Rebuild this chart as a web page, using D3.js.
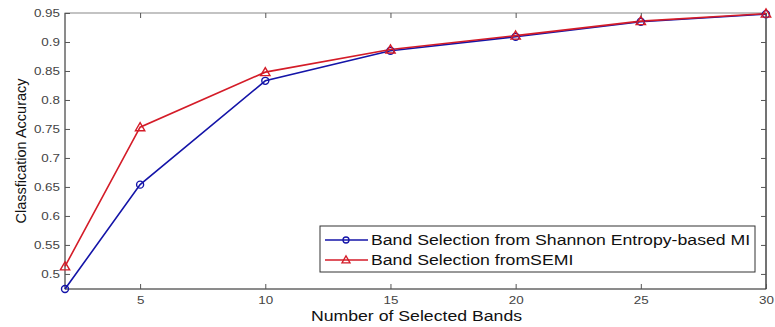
<!DOCTYPE html>
<html>
<head>
<meta charset="utf-8">
<script src="https://cdn.jsdelivr.net/npm/d3@7"></script>
<style>
	body { margin: 0; background: #fff; }
	text { font-family: "Liberation Sans", Arial, sans-serif; }
</style>
</head>
<body>
<svg id="chart" width="775" height="327"></svg>
<script>
// band counts on the x axis
const bands = [2, 5, 10, 15, 20, 25, 30];
// accuracies
const shannonMI = [0.474, 0.654, 0.833, 0.885, 0.909, 0.935, 0.948];
const semi = [0.513, 0.753, 0.848, 0.887, 0.911, 0.936, 0.949];
const xTicks = [5, 10, 15, 20, 25, 30];
const yTicks = [0.5, 0.55, 0.6, 0.65, 0.7, 0.75, 0.8, 0.85, 0.9, 0.95];
const seriesNames = ["Band Selection from Shannon Entropy-based MI", "Band Selection fromSEMI"];

const margin = { left: 65, right: 9, top: 13, bottom: 38 };
const W = 775, H = 327;
const stretch = 1.22; // the original picture is widened a bit
const svg = d3.select("#chart");

let x = d3.scaleLinear().domain([2, 30]).range([margin.left, W - margin.right]);
let y = d3.scaleLinear().domain([0.474, 0.95]).range([H - margin.bottom, margin.top]);

let g = svg.append("g");

// frame
g.append("rect")
	.attr("x", x(2)).attr("y", y(0.95))
	.attr("width", x(30) - x(2)).attr("height", y(0.474) - y(0.95))
	.attr("fill", "none").attr("stroke", "#888").attr("stroke-width", 1);
g.append("line").attr("x1", x(2)).attr("x2", x(30)).attr("y1", y(0.474)).attr("y2", y(0.474))
	.attr("stroke", "#555");
g.append("line").attr("x1", x(2)).attr("x2", x(2)).attr("y1", y(0.474)).attr("y2", y(0.95))
	.attr("stroke", "#555");
g.append("line").attr("x1", x(30)).attr("x2", x(30)).attr("y1", y(0.474)).attr("y2", y(0.95))
	.attr("stroke", "#222");

// ticks inside, on all four sides
let xAxis = d3.axisBottom(x).tickValues(xTicks).tickSize(-5).tickPadding(7).tickFormat(d3.format("d"));
let xg = g.append("g").attr("transform", `translate(0,${y(0.474)})`).call(xAxis);
let xTop = d3.axisTop(x).tickValues(xTicks).tickSize(-5).tickFormat("");
let xtg = g.append("g").attr("transform", `translate(0,${y(0.95)})`).call(xTop);
let yAxis = d3.axisLeft(y).tickValues(yTicks).tickSize(-5).tickFormat((d) => String(+d.toFixed(2)));
let yg = g.append("g").attr("transform", `translate(${x(2)},0)`).call(yAxis);
let yRight = d3.axisRight(y).tickValues(yTicks).tickSize(-5).tickFormat("");
let yrg = g.append("g").attr("transform", `translate(${x(30)},0)`).call(yRight);

[xg, xtg, yg, yrg].forEach((a) => {
	a.select(".domain").remove();
	a.selectAll("line").attr("stroke", "#555");
	a.selectAll("text").attr("fill", "#444").style("font-size", "11px")
		.style("font-family", "'Liberation Sans', Arial, sans-serif");
});
xg.selectAll("text").attr("transform", `scale(${stretch},1)`);
yg.selectAll("text").attr("x", 0).attr("transform", `translate(-5,0) scale(${stretch},1)`);

// lines
let line = d3.line().x((d, i) => x(bands[i])).y((d) => y(d));

g.append("path").datum(shannonMI).attr("d", line)
	.attr("fill", "none").attr("stroke", "#1414a8").attr("stroke-width", 1.6);
g.append("path").datum(semi).attr("d", line)
	.attr("fill", "none").attr("stroke", "#d41c28").attr("stroke-width", 1.6);

let tri = d3.symbol().type(d3.symbolTriangle).size(38);

g.selectAll("circle.mi").data(shannonMI).join("circle").classed("mi", true)
	.attr("cx", (d, i) => x(bands[i])).attr("cy", (d) => y(d)).attr("r", 3.5)
	.attr("fill", "none").attr("stroke", "#1414a8").attr("stroke-width", 1.4);
g.selectAll("path.semi").data(semi).join("path").classed("semi", true)
	.attr("transform", (d, i) => `translate(${x(bands[i])},${y(d) + 0.8})`)
	.attr("d", tri)
	.attr("fill", "none").attr("stroke", "#d41c28").attr("stroke-width", 1.4);

// legend
let lg = svg.append("g").attr("transform", "translate(320,226)");
lg.append("rect").attr("width", 435).attr("height", 46)
	.attr("fill", "#fff").attr("stroke", "#333").attr("stroke-width", 1);
let colors = ["#1414a8", "#d41c28"];
seriesNames.forEach((name, i) => {
	let yy = 14 + i * 20;
	lg.append("line").attr("x1", 5).attr("x2", 48).attr("y1", yy).attr("y2", yy)
		.attr("stroke", colors[i]).attr("stroke-width", 1.6);
	if (i === 0) {
		lg.append("circle").attr("cx", 26).attr("cy", yy).attr("r", 3)
			.attr("fill", "none").attr("stroke", colors[i]).attr("stroke-width", 1.3);
	} else {
		lg.append("path").attr("transform", `translate(26,${yy + 0.5})`)
			.attr("d", d3.symbol().type(d3.symbolTriangle).size(28))
			.attr("fill", "none").attr("stroke", colors[i]).attr("stroke-width", 1.3);
	}
	lg.append("text").attr("transform", `translate(51,${yy + 5}) scale(${stretch},1)`)
		.text(name).attr("fill", "#111").style("font-size", "14.5px");
});

// axis titles
svg.append("text")
	.attr("transform", `translate(${(x(2) + x(30)) / 2 + 1},321) scale(${stretch},1)`)
	.attr("text-anchor", "middle").style("font-size", "14.5px").attr("fill", "#111")
	.text("Number of Selected Bands");
svg.append("text")
	.attr("transform", `translate(26,${(y(0.474) + y(0.95)) / 2}) rotate(-90)`)
	.attr("text-anchor", "middle").style("font-size", "14.5px").attr("fill", "#111")
	.text("Classfication Accuracy");
</script>
</body>
</html>
